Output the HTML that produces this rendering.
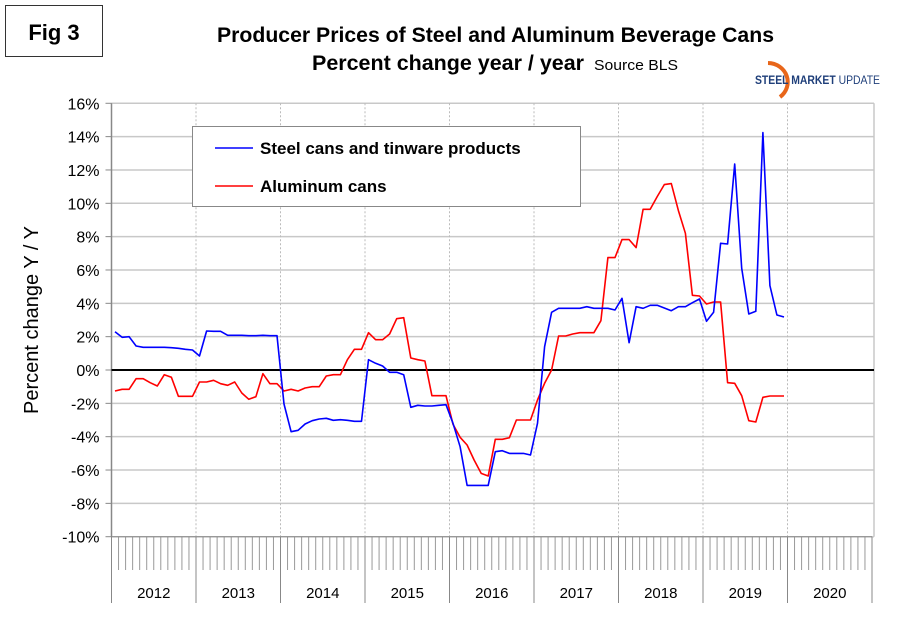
<!DOCTYPE html>
<html><head><meta charset="utf-8"><style>
body{margin:0;background:#fff;width:910px;height:622px;overflow:hidden;font-family:"Liberation Sans",Arial,sans-serif}
</style></head><body>
<svg width="910" height="622" viewBox="0 0 910 622" xmlns="http://www.w3.org/2000/svg">
<rect x="0" y="0" width="910" height="622" fill="#fff"/>
<g>
<rect x="5.5" y="5.5" width="97" height="51" fill="#fff" stroke="#333" stroke-width="1"/>
<text x="54" y="40" text-anchor="middle" font-size="22" font-weight="bold" font-family="Liberation Sans, sans-serif">Fig 3</text>
</g>
<text x="217" y="42" font-size="21" font-weight="bold" textLength="557" lengthAdjust="spacingAndGlyphs">Producer Prices of Steel and Aluminum Beverage Cans</text>
<text x="312" y="70" font-size="21" font-weight="bold" textLength="272" lengthAdjust="spacingAndGlyphs">Percent change year / year</text>
<text x="594" y="70" font-size="15" textLength="84" lengthAdjust="spacingAndGlyphs">Source BLS</text>
<g>
<path d="M768 63 A20 19 0 0 1 780 97" fill="none" stroke="#e8661a" stroke-width="4"/>
<text x="755" y="84" font-size="11.5" font-weight="bold" fill="#1f3f7a" textLength="125" lengthAdjust="spacingAndGlyphs">STEEL MARKET <tspan font-weight="normal">UPDATE</tspan></text>
</g>
<g id="grid"></g>
<g id="axes"></g>
<g id="series"></g>
<g>
<rect x="192.5" y="126.5" width="388" height="80" fill="#fff" stroke="#888" stroke-width="1"/>
<line x1="215" y1="148" x2="253" y2="148" stroke="#0000ff" stroke-width="1.5"/>
<text x="260" y="154" font-size="17" font-weight="bold">Steel cans and tinware products</text>
<line x1="215" y1="186" x2="253" y2="186" stroke="#ff0000" stroke-width="1.5"/>
<text x="260" y="192" font-size="17" font-weight="bold">Aluminum cans</text>
</g>
<text transform="translate(38,320) rotate(-90)" text-anchor="middle" font-size="20">Percent change Y / Y</text>
</svg>
<script>
const years=["2012","2013","2014","2015","2016","2017","2018","2019","2020"];
const yTicks=[16,14,12,10,8,6,4,2,0,-2,-4,-6,-8,-10];
const steel=[2.3,1.96,2.0,1.44,1.36,1.36,1.36,1.36,1.34,1.3,1.24,1.2,
0.84,2.34,2.32,2.32,2.08,2.08,2.08,2.06,2.06,2.08,2.06,2.06,
-2.04,-3.7,-3.62,-3.24,-3.04,-2.94,-2.9,-3.02,-2.98,-3.02,-3.08,-3.08,
0.62,0.4,0.24,-0.14,-0.14,-0.28,-2.24,-2.12,-2.16,-2.16,-2.12,-2.08,
-3.2,-4.6,-6.92,-6.92,-6.92,-6.92,-4.9,-4.84,-5.0,-5.0,-5.0,-5.1,
-3.2,1.4,3.46,3.7,3.7,3.7,3.7,3.8,3.7,3.7,3.7,3.6,
4.3,1.64,3.8,3.7,3.88,3.88,3.72,3.56,3.8,3.8,4.04,4.26,
2.92,3.46,7.6,7.56,12.36,6.1,3.36,3.52,14.24,5.06,3.3,3.18];
const aluminum=[-1.26,-1.16,-1.16,-0.52,-0.52,-0.76,-0.96,-0.28,-0.44,-1.58,-1.58,-1.58,
-0.72,-0.72,-0.62,-0.82,-0.92,-0.72,-1.38,-1.76,-1.6,-0.22,-0.82,-0.82,
-1.26,-1.16,-1.26,-1.08,-1.0,-1.0,-0.36,-0.28,-0.28,0.62,1.24,1.24,
2.24,1.82,1.82,2.16,3.08,3.14,0.72,0.62,0.54,-1.54,-1.54,-1.54,
-3.26,-4.04,-4.5,-5.4,-6.2,-6.36,-4.16,-4.16,-4.06,-3.0,-3.0,-3.0,
-1.8,-0.8,0.0,2.04,2.04,2.16,2.24,2.24,2.24,2.96,6.74,6.74,
7.82,7.82,7.34,9.64,9.64,10.4,11.12,11.18,9.56,8.2,4.48,4.44,
3.96,4.08,4.08,-0.76,-0.8,-1.54,-3.04,-3.12,-1.64,-1.56,-1.56,-1.56];
const X0=111.5,X1=872,Y0=370,PPU=16.67,MW=(X1-X0)/108;
const xm=i=>X0+MW*(i+0.5);
const yv=v=>Y0-v*PPU;
const NS="http://www.w3.org/2000/svg";
function mk(tag,at,parent){const e=document.createElementNS(NS,tag);for(const k in at)e.setAttribute(k,at[k]);parent.appendChild(e);return e;}
const grid=document.getElementById('grid'),axes=document.getElementById('axes'),series=document.getElementById('series');
yTicks.forEach(t=>{
 const y=yv(t);
 if(t!==0){const l=mk('line',{x1:X0,x2:X1+2,y1:y,y2:y,stroke:'#c8c8c8','stroke-width':1.5},grid);
 
 }
 const tk=mk('line',{x1:X0-6,x2:X0,y1:y,y2:y,stroke:'#888'},axes);
 
 
 const tx=mk('text',{x:X0-12,y:y+6,'text-anchor':'end','font-size':16},axes);
 tx.textContent=t+'%';
 
 
});
const rb=mk('line',{x1:X1+2,x2:X1+2,y1:yv(16),y2:yv(-10),stroke:'#c8c8c8','stroke-width':1.5},grid);


years.forEach((yr,k)=>{
 const x=X0+MW*12*k;
 if(k>0){const g=mk('line',{x1:x,x2:x,y1:yv(16),y2:yv(-10),stroke:'#bbb','stroke-dasharray':'2,2'},grid);
 
 }
 const s=mk('line',{x1:x,x2:x,y1:yv(-10),y2:603,stroke:'#888'},axes);
 
 
 const t=mk('text',{x:x+MW*6,y:598,'text-anchor':'middle','font-size':15},axes);
 t.textContent=yr;
 
 
 for(let m=1;m<12;m++){const mx=x+MW*m;
  const ml=mk('line',{x1:mx,x2:mx,y1:yv(-10),y2:570,stroke:'#999'},axes);
  
  }
});
const lastX=X0+MW*108;
const ls=mk('line',{x1:lastX,x2:lastX,y1:yv(-10),y2:603,stroke:'#888'},axes);


const ya=mk('line',{x1:X0,x2:X0,y1:yv(16),y2:yv(-10),stroke:'#888','stroke-width':1.5},axes);


const xa=mk('line',{x1:X0,x2:X1,y1:yv(-10),y2:yv(-10),stroke:'#888'},axes);


const z=mk('line',{x1:X0,x2:X1+2,y1:yv(0),y2:yv(0),stroke:'#000','stroke-width':2},axes);


function line(arr,color,name){
 const p=mk('polyline',{points:arr.map((v,i)=>xm(i).toFixed(1)+','+yv(v).toFixed(1)).join(' '),fill:'none',stroke:color,'stroke-width':1.6,'stroke-linejoin':'round'},series);
 
 
}
line(aluminum,'#ff0000','aluminum-cans-line');
line(steel,'#0000ff','steel-cans-line');
</script>
</body></html>
